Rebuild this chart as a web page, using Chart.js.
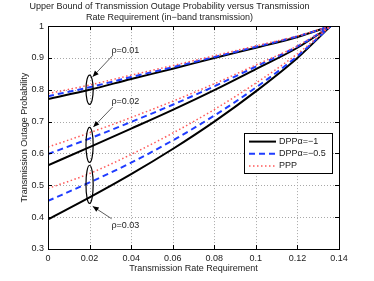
<!DOCTYPE html>
<html>
<head>
<meta charset="utf-8">
<script src="https://cdn.jsdelivr.net/npm/chart.js@4.4.0/dist/chart.umd.min.js"></script>
<style>
  html, body { margin: 0; padding: 0; background: #fff; }
  #wrap { width: 374px; height: 281px; }
</style>
</head>
<body>
<div id="wrap"><canvas id="outageChart"></canvas></div>
<script>
// rate requirement samples (x axis)
const rates = [0, 0.02, 0.04, 0.06, 0.08, 0.10, 0.12, 0.136];

// rho = 0.01
const dppA1_r1  = [0.771, 0.800, 0.834, 0.866, 0.900, 0.932, 0.966, 1];
const dppA05_r1 = [0.780, 0.808, 0.840, 0.871, 0.903, 0.935, 0.968, 1];
const ppp_r1    = [0.788, 0.815, 0.846, 0.876, 0.907, 0.938, 0.969, 1];
// rho = 0.02
const dppA1_r2  = [0.563, 0.620, 0.678, 0.737, 0.799, 0.865, 0.932, 1];
const dppA05_r2 = [0.598, 0.647, 0.699, 0.753, 0.811, 0.873, 0.936, 1];
const ppp_r2    = [0.620, 0.665, 0.713, 0.764, 0.819, 0.878, 0.938, 1];
// rho = 0.03
const dppA1_r3  = [0.393, 0.462, 0.535, 0.614, 0.700, 0.795, 0.900, 1];
const dppA05_r3 = [0.451, 0.509, 0.571, 0.641, 0.719, 0.807, 0.906, 1];
const ppp_r3    = [0.490, 0.537, 0.597, 0.664, 0.738, 0.821, 0.913, 1];

const legendLabels = ['DPPα=−1', 'DPPα=−0.5', 'PPP'];
const rhoLabels = ['ρ=0.01', 'ρ=0.02', 'ρ=0.03'];

const styles = [
  { color: '#000000', width: 2, dash: [] },
  { color: '#1f3cff', width: 2, dash: [6, 4] },
  { color: '#ff5a5a', width: 1.5, dash: [1.5, 2.5] }
];

const FONT = '"Liberation Sans", Arial, sans-serif';

function pts(ys) {
  return rates.map((r, i) => ({ x: r, y: ys[i] }));
}

const groups = [
  [dppA1_r1, dppA05_r1, ppp_r1],
  [dppA1_r2, dppA05_r2, ppp_r2],
  [dppA1_r3, dppA05_r3, ppp_r3]
];

const datasets = [];
groups.forEach(g => {
  g.forEach((ys, k) => {
    datasets.push({
      label: legendLabels[k],
      data: pts(ys),
      borderColor: styles[k].color,
      borderWidth: styles[k].width,
      borderDash: styles[k].dash,
      pointRadius: 0,
      fill: false,
      cubicInterpolationMode: 'monotone',
      order: 3 - k
    });
  });
});

// ellipses and arrows (data coordinates)
const ellipses = [
  { x: 0.02, y: 0.800, ry: 0.046 },
  { x: 0.02, y: 0.627, ry: 0.055 },
  { x: 0.02, y: 0.503, ry: 0.060 }
];
const arrows = [
  { from: [0.0313, 0.909], to: [0.0215, 0.841], text: [0.0305, 0.922] },
  { from: [0.0311, 0.746], to: [0.0218, 0.683], text: [0.0305, 0.764] },
  { from: [0.0306, 0.395], to: [0.0215, 0.434], text: [0.0305, 0.374] }
];

// dotted matlab-like grid, drawn under the lines
const gridPlugin = {
  id: 'dotgrid',
  beforeDatasetsDraw(chart) {
    const ctx = chart.ctx;
    const xs = chart.scales.x, ys = chart.scales.y;
    const ca = chart.chartArea;
    ctx.save();
    ctx.strokeStyle = '#a8a8a8';
    ctx.lineWidth = 1;
    ctx.setLineDash([1, 2]);
    ctx.beginPath();
    xs.ticks.forEach(t => {
      const px = Math.round(xs.getPixelForValue(t.value)) + 0.5;
      ctx.moveTo(px, ca.top); ctx.lineTo(px, ca.bottom);
    });
    ys.ticks.forEach(t => {
      const py = Math.round(ys.getPixelForValue(t.value)) + 0.5;
      ctx.moveTo(ca.left, py); ctx.lineTo(ca.right, py);
    });
    ctx.stroke();
    ctx.restore();
  }
};

const decorPlugin = {
  id: 'decor',
  afterDatasetsDraw(chart) {
    const ctx = chart.ctx;
    const xs = chart.scales.x, ys = chart.scales.y;
    const ca = chart.chartArea;
    ctx.save();

    // ellipses
    ctx.strokeStyle = '#000';
    ctx.lineWidth = 1.2;
    ctx.setLineDash([]);
    ellipses.forEach(e => {
      const cx = xs.getPixelForValue(e.x);
      const cy = ys.getPixelForValue(e.y);
      const ry = Math.abs(ys.getPixelForValue(e.y + e.ry) - cy);
      ctx.beginPath();
      ctx.ellipse(cx, cy, 3.6, ry, 0, 0, Math.PI * 2);
      ctx.stroke();
    });

    // arrows + rho labels
    ctx.font = '9px ' + FONT;
    ctx.textBaseline = 'middle';
    ctx.textAlign = 'left';
    arrows.forEach((a, i) => {
      const x1 = xs.getPixelForValue(a.from[0]), y1 = ys.getPixelForValue(a.from[1]);
      const x2 = xs.getPixelForValue(a.to[0]), y2 = ys.getPixelForValue(a.to[1]);
      ctx.strokeStyle = '#333';
      ctx.lineWidth = 0.8;
      ctx.beginPath();
      ctx.moveTo(x1, y1);
      ctx.lineTo(x2, y2);
      ctx.stroke();
      const ang = Math.atan2(y2 - y1, x2 - x1);
      const L = 6, W = 2.6;
      ctx.fillStyle = '#000';
      ctx.beginPath();
      ctx.moveTo(x2, y2);
      ctx.lineTo(x2 - L * Math.cos(ang) + W * Math.sin(ang), y2 - L * Math.sin(ang) - W * Math.cos(ang));
      ctx.lineTo(x2 - L * Math.cos(ang) - W * Math.sin(ang), y2 - L * Math.sin(ang) + W * Math.cos(ang));
      ctx.closePath();
      ctx.fill();
      ctx.fillStyle = '#222';
      ctx.fillText(rhoLabels[i], xs.getPixelForValue(a.text[0]), ys.getPixelForValue(a.text[1]));
    });

    // axes box and inward ticks
    ctx.strokeStyle = '#000';
    ctx.lineWidth = 1;
    ctx.strokeRect(Math.round(ca.left) + 0.5, Math.round(ca.top) + 0.5,
      Math.round(ca.right - ca.left), Math.round(ca.bottom - ca.top));
    ctx.beginPath();
    xs.ticks.forEach(t => {
      const px = Math.round(xs.getPixelForValue(t.value)) + 0.5;
      ctx.moveTo(px, ca.bottom); ctx.lineTo(px, ca.bottom - 4);
      ctx.moveTo(px, ca.top); ctx.lineTo(px, ca.top + 4);
    });
    ys.ticks.forEach(t => {
      const py = Math.round(ys.getPixelForValue(t.value)) + 0.5;
      ctx.moveTo(ca.left, py); ctx.lineTo(ca.left + 4, py);
      ctx.moveTo(ca.right, py); ctx.lineTo(ca.right - 4, py);
    });
    ctx.stroke();

    // legend box
    const lx = ca.right - 95, ly = ca.top + 107, lw = 88, lh = 40;
    ctx.fillStyle = '#fff';
    ctx.fillRect(lx, ly, lw, lh);
    ctx.strokeStyle = '#000';
    ctx.lineWidth = 1;
    ctx.strokeRect(Math.round(lx) + 0.5, Math.round(ly) + 0.5, lw, lh);
    legendLabels.forEach((lab, k) => {
      const yy = ly + 8.5 + k * 12.2;
      ctx.strokeStyle = styles[k].color;
      ctx.lineWidth = styles[k].width;
      ctx.setLineDash(styles[k].dash);
      ctx.beginPath();
      ctx.moveTo(lx + 5, yy);
      ctx.lineTo(lx + 32, yy);
      ctx.stroke();
      ctx.setLineDash([]);
      ctx.fillStyle = '#222';
      ctx.fillText(lab, lx + 35, yy);
    });
    ctx.restore();
  }
};

const tickFmt = v => String(+v.toFixed(2));

new Chart(document.getElementById('outageChart').getContext('2d'), {
  type: 'line',
  data: { datasets },
  plugins: [gridPlugin, decorPlugin],
  options: {
    responsive: true,
    maintainAspectRatio: false,
    animation: false,
    layout: { padding: { left: 0, right: 35, top: 0, bottom: 0 } },
    plugins: {
      legend: { display: false },
      tooltip: { enabled: false },
      title: {
        display: true,
        text: ['Upper Bound of Transmission Outage Probability versus Transmission',
               'Rate Requirement (in−band transmission)'],
        color: '#222',
        font: { family: FONT, size: 9, weight: 'normal', lineHeight: 1.2 },
        padding: { top: 1.5, bottom: 3 }
      }
    },
    scales: {
      x: {
        type: 'linear',
        min: 0,
        max: 0.14,
        ticks: {
          stepSize: 0.02,
          color: '#222',
          padding: 4,
          font: { family: FONT, size: 9 },
          callback: tickFmt
        },
        grid: { display: false, drawTicks: false },
        border: { display: false },
        title: {
          display: true,
          text: 'Transmission Rate Requirement',
          color: '#222',
          font: { family: FONT, size: 9 },
          padding: { top: 0, bottom: 7 }
        },
        afterFit(scale) { scale.height = 32; }
      },
      y: {
        type: 'linear',
        min: 0.3,
        max: 1,
        ticks: {
          stepSize: 0.1,
          color: '#222',
          padding: 4,
          font: { family: FONT, size: 9 },
          callback: tickFmt
        },
        grid: { display: false, drawTicks: false },
        border: { display: false },
        title: {
          display: true,
          text: 'Transmission Outage Probability',
          color: '#222',
          font: { family: FONT, size: 9 },
          padding: { top: 19, bottom: 0 }
        },
        afterFit(scale) { scale.width = 48; }
      }
    }
  }
});
</script>
</body>
</html>
